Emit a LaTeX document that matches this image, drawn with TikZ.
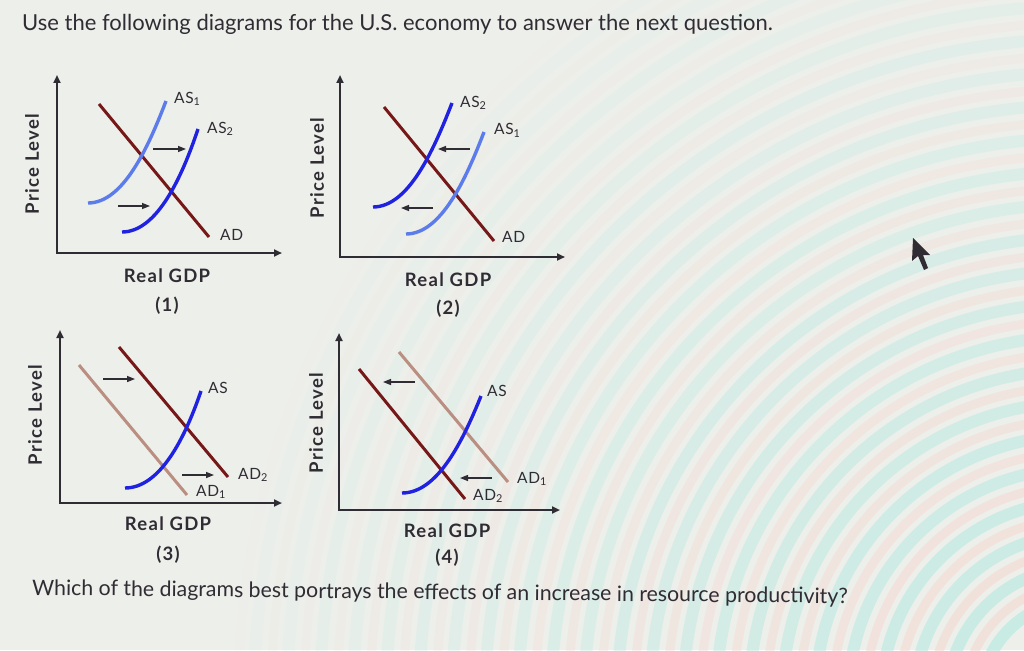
\documentclass[tikz,border=0pt]{standalone}
\usepackage{fontspec}
\setmainfont{Lato}
\usetikzlibrary{arrows.meta}

\definecolor{fondo}{RGB}{237,239,235}
\definecolor{cian}{RGB}{170,232,222}
\definecolor{rosa}{RGB}{246,214,206}
\definecolor{tinta}{RGB}{48,44,52}
\definecolor{addark}{RGB}{118,24,24}
\definecolor{adlight}{RGB}{186,142,128}
\definecolor{asdark}{RGB}{32,34,226}
\definecolor{aslight}{RGB}{92,124,236}

\begin{document}
\begin{tikzpicture}[x=1pt, y=-1pt]
% estilos separados
\tikzset{
  eje/.style={line width=2.2pt, draw=tinta, {Triangle[length=8pt,width=7pt]}-{Triangle[length=8pt,width=7pt]}},
  dd/.style={line width=3pt, draw=addark},
  ddl/.style={line width=3pt, draw=adlight},
  oo/.style={line width=3.4pt, draw=asdark},
  ool/.style={line width=3.4pt, draw=aslight},
  mueve/.style={line width=1.4pt, draw=tinta, -{Triangle[length=8pt,width=6pt]}},
  lbl/.style={anchor=base west, inner sep=0pt, text=tinta, font=\fontsize{15.5}{17}\selectfont\addfontfeatures{LetterSpace=4}},
  ejelbl/.style={inner sep=0pt, text=tinta, font=\fontsize{18.5}{21}\bfseries\addfontfeatures{LetterSpace=7}},
  txt/.style={anchor=base west, inner sep=0pt, text=tinta, font=\fontsize{22}{26}\selectfont}
}

\useasboundingbox (0,0) rectangle (1024,650);
\fill[fondo] (0,0) rectangle (1024,650);
% franjas del fondo
\begin{scope}
\clip (0,0) rectangle (1024,650);
\foreach \r in {100,133,...,840} {
  \pgfmathsetmacro{\op}{0.55*(1-(\r-100)/800)}
  \draw[cian, line width=12pt, opacity=\op] (1080,700) circle[radius=\r];
  \draw[rosa, line width=9pt, opacity=\op] (1080,700) circle[radius=\r+16];
}
\end{scope}

\node[txt] (titulo) at (22,31) {Use the following diagrams for the U.S. economy to answer the next question.};

% (1)
\draw[eje] (57,75) |- (282,253);
\draw[dd] (99,104) -- (209,237);
\draw[ool] (88,203) .. controls (123,203) and (148,148) .. (166,101);
\draw[oo] (122,232) .. controls (157,232) and (182,177) .. (198,129);
\draw[mueve] (153,149) -- (186,149);
\draw[mueve] (118,206) -- (150,206);
\node[lbl] (as1a) at (174,103) {AS\textsubscript{1}};
\node[lbl] (as2a) at (207,133) {AS\textsubscript{2}};
\node[lbl] (ada) at (220,240) {AD};
\node[ejelbl, rotate=90] (pla) at (32,164) {Price Level};
\node[ejelbl, anchor=base] (gdpa) at (167,282) {Real GDP};
\node[ejelbl, anchor=base] (na) at (167,311) {(1)};

% (2)
\draw[eje] (340,75) |- (565,257);
\draw[dd] (384,107) -- (494,241);
\draw[oo] (373,207) .. controls (408,207) and (433,152) .. (452,103);
\draw[ool] (406,234) .. controls (441,234) and (466,179) .. (484,132);
\draw[mueve] (470,149) -- (438,149);
\draw[mueve] (433,208) -- (401,208);
\node[lbl] (as2b) at (460,107) {AS\textsubscript{2}};
\node[lbl] (as1b) at (494,135) {AS\textsubscript{1}};
\node[lbl] (adb) at (502,242) {AD};
\node[ejelbl, rotate=90] (plb) at (317,168) {Price Level};
\node[ejelbl, anchor=base] (gdpb) at (448,286) {Real GDP};
\node[ejelbl, anchor=base] (nb) at (448,314) {(2)};

% (3)
\draw[eje] (60,330) |- (282,503);
\draw[ddl] (79,365) -- (187,495);
\draw[dd] (119,347) -- (228,477);
\draw[oo] (125,488) .. controls (160,488) and (185,438) .. (201,391);
\draw[mueve] (103,379) -- (135,379);
\draw[mueve] (182,475) -- (214,475);
\node[lbl] (asc) at (208,393) {AS};
\node[lbl] (ad2c) at (238,479) {AD\textsubscript{2}};
\node[lbl] (ad1c) at (196,496) {AD\textsubscript{1}};
\node[ejelbl, rotate=90] (plc) at (35,415) {Price Level};
\node[ejelbl, anchor=base] (gdpc) at (168,530) {Real GDP};
\node[ejelbl, anchor=base] (nc) at (168,560) {(3)};

% (4)
\draw[eje] (339,333) |- (560,510);
\draw[ddl] (399,352) -- (508,482);
\draw[dd] (359,369) -- (465,499);
\draw[oo] (402,493) .. controls (437,493) and (462,443) .. (481,396);
\draw[mueve] (415,382) -- (383,382);
\draw[mueve] (492,478) -- (460,478);
\node[lbl] (asd) at (487,396) {AS};
\node[lbl] (ad1d) at (517,483) {AD\textsubscript{1}};
\node[lbl] (ad2d) at (473,500) {AD\textsubscript{2}};
\node[ejelbl, rotate=90] (pld) at (316,423) {Price Level};
\node[ejelbl, anchor=base] (gdpd) at (447,537) {Real GDP};
\node[ejelbl, anchor=base] (nd) at (447,563) {(4)};

\node[txt, rotate=-0.6, font=\fontsize{21.3}{25}\selectfont] (pregunta) at (32,595) {Which of the diagrams best portrays the effects of an increase in resource productivity?};

% puntero
\fill[tinta] (913,238) -- (912,261) -- (918,256) -- (924,270) -- (928,268) -- (923,255) -- (930,255) -- cycle;
\end{tikzpicture}
\end{document}
